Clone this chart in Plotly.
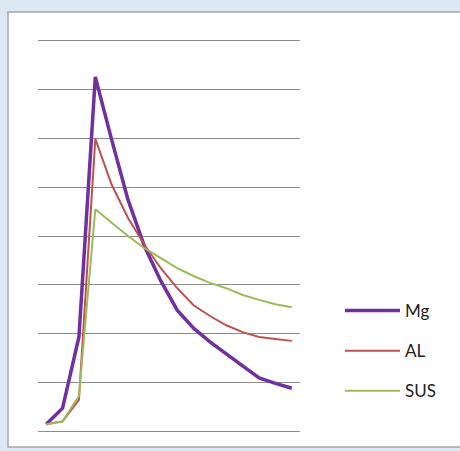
import plotly.graph_objects as go

categories = list(range(16))
mg = [0.14, 0.47, 1.93, 7.26, 5.97, 4.74, 3.79, 3.08, 2.48, 2.11, 1.83, 1.58, 1.33, 1.09, 0.98, 0.88]
al = [0.14, 0.20, 0.64, 5.99, 5.05, 4.37, 3.82, 3.34, 2.93, 2.58, 2.36, 2.17, 2.03, 1.93, 1.89, 1.85]
sus = [0.14, 0.20, 0.72, 4.55, 4.27, 4.00, 3.75, 3.55, 3.34, 3.18, 3.04, 2.93, 2.79, 2.69, 2.60, 2.54]
series_names = ["Mg", "AL", "SUS"]
colors = ["#7030A0", "#C0504D", "#9BBB59"]
widths = [3.5, 2, 2]

W, H = 460, 451
L, R, T, B = 38, 300, 36, 436
pw, ph = R - L, B - T
ymin, ymax = -0.1, 8.1

fig = go.Figure()
for name, vals, c, w in zip(series_names, [mg, al, sus], colors, widths):
    fig.add_trace(go.Scatter(x=categories, y=vals, mode="lines", name=name,
                             legendgroup=name,
                             line=dict(color=c, width=w)))

def px_x(p):
    return (p - L) / pw

def px_y(p):
    return (B - p) / ph

fig.add_shape(type="rect", xref="paper", yref="paper",
              x0=px_x(8), x1=px_x(470), y0=px_y(447), y1=px_y(12),
              fillcolor="white", line=dict(color="#a8a8a8", width=1.5),
              layer="below")

fig.update_layout(
    width=W, height=H,
    margin=dict(l=L, r=W - R, t=T, b=H - B, pad=0),
    paper_bgcolor="#dce8f4",
    plot_bgcolor="rgba(0,0,0,0)",
    font=dict(family="Lato", size=16, color="#222222"),
    showlegend=True,
    legend=dict(x=px_x(340), y=px_y(293), xanchor="left", yanchor="top",
                bgcolor="rgba(0,0,0,0)", tracegroupgap=15, itemwidth=55,
                traceorder="grouped", font=dict(size=17)),
    xaxis=dict(range=[-0.5, 15.5], showgrid=False, zeroline=False,
               showticklabels=False, ticks="", showline=False),
    yaxis=dict(range=[ymin, ymax], tickmode="array", tickvals=list(range(9)),
               showgrid=True, gridcolor="#8c8c8c",
               gridwidth=1, zeroline=False, showticklabels=False,
               ticks="", showline=False),
)

fig.write_html("out.html", config={"displayModeBar": False},
               post_script="document.body.style.margin='0';document.body.style.background='#dce8f4';")
